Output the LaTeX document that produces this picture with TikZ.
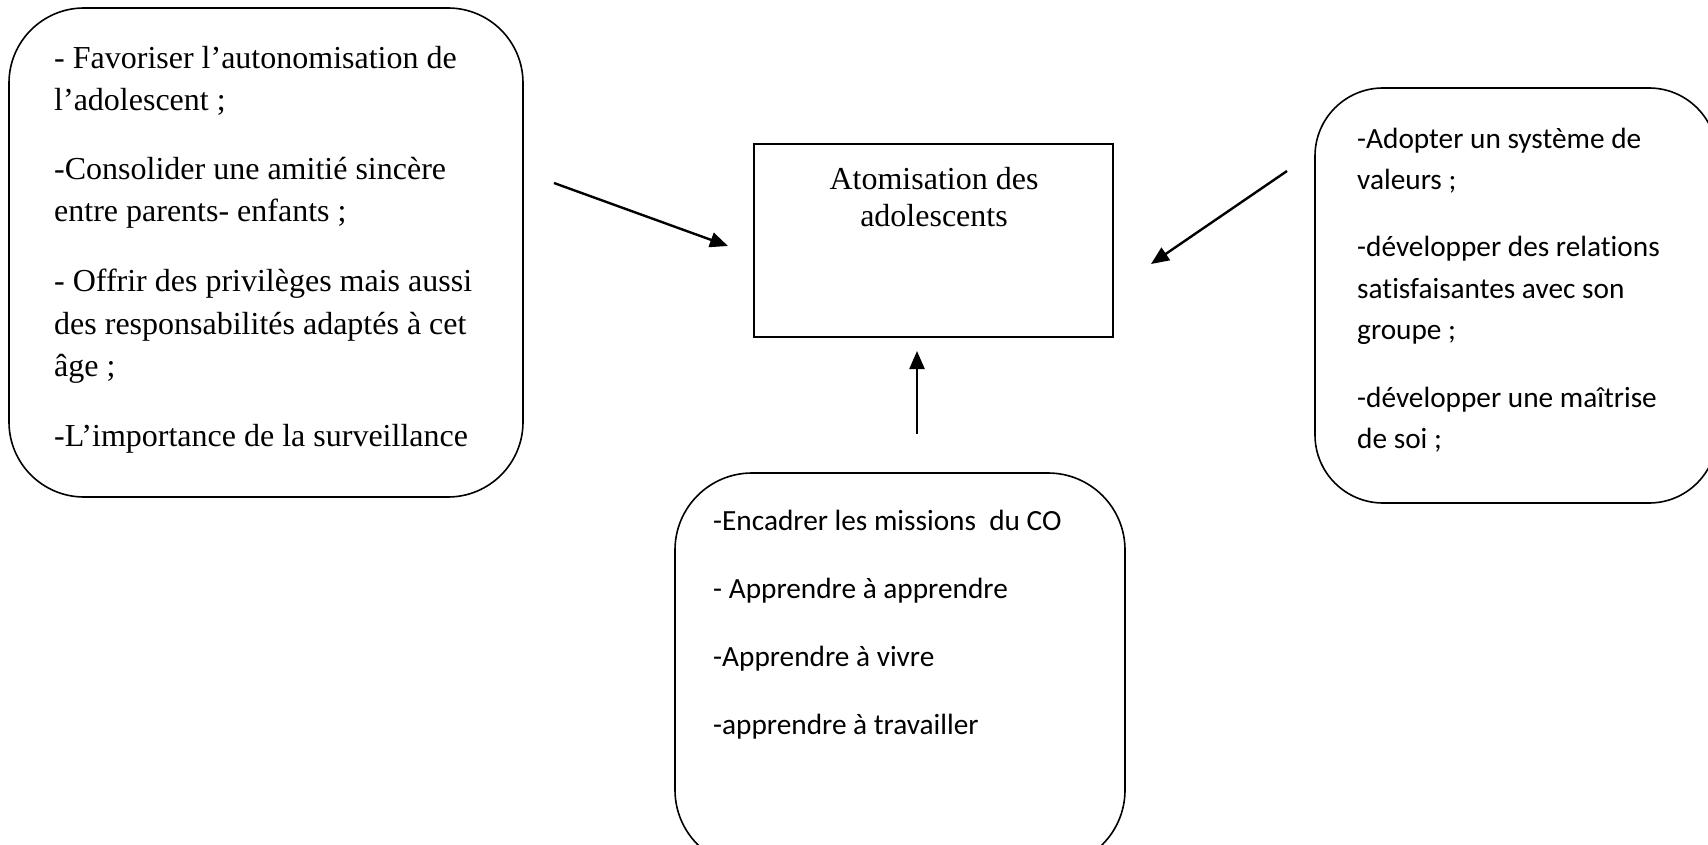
\documentclass[tikz,border=0pt]{standalone}
\usepackage{fontspec}
\setmainfont[Ligatures=NoCommon]{Liberation Serif}
\newfontfamily\calibrifont[Ligatures=NoCommon]{Carlito}
\usetikzlibrary{arrows.meta}
\begin{document}
\begin{tikzpicture}[x=1pt,y=-1pt,
  box/.style={draw, line width=1.6pt, inner sep=0pt, outer sep=0pt, anchor=north west},
  rbox/.style={box, rounded corners=#1},
  serif/.style={anchor=base west, inner sep=0pt, font=\fontsize{32}{36}\selectfont},
  serifc/.style={anchor=base, inner sep=0pt, font=\fontsize{32}{36}\selectfont},
  sans/.style={anchor=base west, inner sep=0pt, font=\calibrifont\fontsize{29.3}{34}\selectfont},
  arr/.style={line width=2.4pt, -{Triangle[length=18pt,width=15pt]}}]
\useasboundingbox (0,0) rectangle (1708,845);
\clip (0,0) rectangle (1708,845);
% boxes
\node[rbox=75pt, minimum width=514pt, minimum height=489pt] (left) at (9,8) {};
\node[box, minimum width=359pt, minimum height=193pt] (center) at (754,144) {};
\node[rbox=68pt, minimum width=402pt, minimum height=415pt] (right) at (1315,88) {};
\node[rbox=77pt, minimum width=450pt, minimum height=394pt] (bottom) at (675,473) {};
% left text
\node[serif] (l1) at (54,69) {- Favoriser l’autonomisation de};
\node[serif] (l2) at (54,111) {l’adolescent ;};
\node[serif] (l3) at (54,180) {-Consolider une amitié sincère};
\node[serif] (l4) at (54,222) {entre parents- enfants ;};
\node[serif] (l5) at (54,291) {- Offrir des privilèges mais aussi};
\node[serif] (l6) at (54,334) {des responsabilités adaptés à cet};
\node[serif] (l7) at (54,376) {âge ;};
\node[serif] (l8) at (54,446) {-L’importance de la surveillance};
% center text
\node[serifc] (c1) at (934,190) {Atomisation des};
\node[serifc] (c2) at (934,227) {adolescents};
% right text
\node[sans] (r1) at (1357,149) {-Adopter un système de};
\node[sans] (r2) at (1357,190) {valeurs ;};
\node[sans] (r3) at (1357,257) {-développer des relations};
\node[sans] (r4) at (1357,298) {satisfaisantes avec son};
\node[sans] (r5) at (1357,339) {groupe ;};
\node[sans] (r6) at (1357,407) {-développer une maîtrise};
\node[sans] (r7) at (1357,448) {de soi ;};
% bottom text
\node[sans] (b1) at (713,530) {-Encadrer les missions\ \ du CO};
\node[sans] (b2) at (713,598) {- Apprendre à apprendre};
\node[sans] (b3) at (713,666) {-Apprendre à vivre};
\node[sans] (b4) at (713,734) {-apprendre à travailler};
% arrows
\coordinate (a1s) at (554,183);
\coordinate (a1e) at (728,246);
\coordinate (a2s) at (1287,171);
\coordinate (a2e) at (1151,264);
\coordinate (a3s) at (917,434);
\coordinate (a3e) at (917,351);
\draw[arr] (a1s) -- (a1e);
\draw[arr] (a2s) -- (a2e);
\draw[arr] (a3s) -- (a3e);
\end{tikzpicture}
\end{document}
